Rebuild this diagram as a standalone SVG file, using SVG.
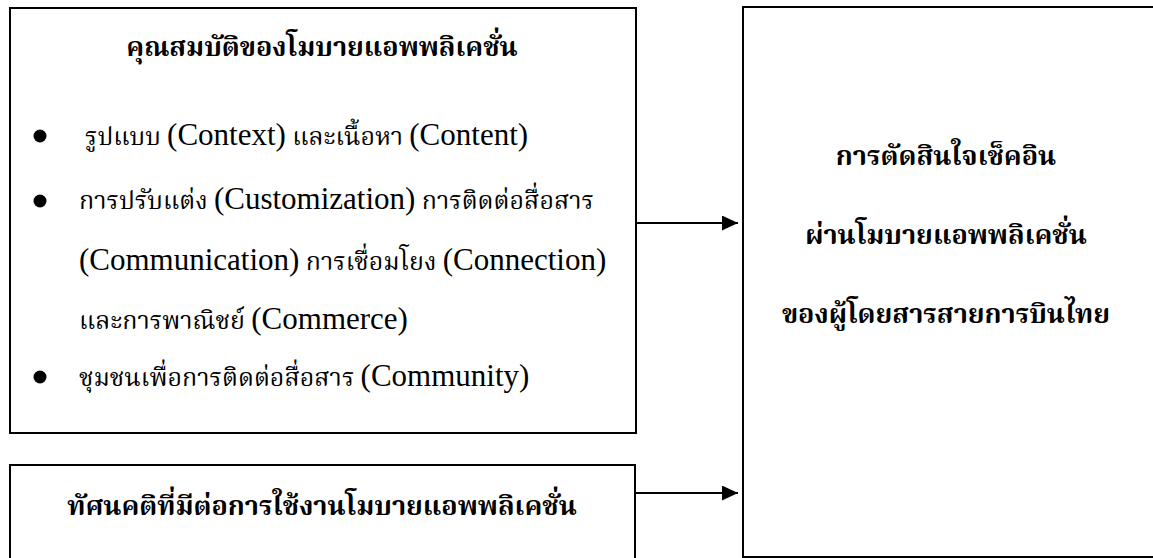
<svg xmlns="http://www.w3.org/2000/svg" width="1153" height="558" viewBox="0 0 1153 558">
<defs>
<style>
.box{fill:#fff;stroke:#000;stroke-width:2}
.t{font-family:"Liberation Serif","Norasi","Noto Serif Thai","Noto Sans Thai","Noto Sans",serif;fill:#000;font-size:25px}
.b{font-weight:bold;text-anchor:middle;font-size:27px}
.en{font-size:31px}
.edge{stroke:#000;stroke-width:2;fill:none}
</style>
<marker id="ah" markerWidth="16" markerHeight="15" refX="16" refY="7.5" orient="auto" markerUnits="userSpaceOnUse">
<path d="M0,0 L16,7.5 L0,15 Z" fill="#000"/>
</marker>
</defs>
<rect width="1153" height="558" fill="#fff"/>
<g id="node-features">
<rect class="box" x="10" y="8" width="626" height="425"/>
<text class="t b" x="322" y="56">คุณสมบัติของโมบายแอพพลิเคชั่น</text>
<circle cx="40" cy="136" r="6.5"/>
<text class="t" x="85" y="145">รูปแบบ <tspan class="en">(Context)</tspan> และเนื้อหา <tspan class="en">(Content)</tspan></text>
<circle cx="40" cy="201" r="6.5"/>
<text class="t" x="79" y="209">การปรับแต่ง <tspan class="en">(Customization)</tspan> การติดต่อสื่อสาร</text>
<text class="t" x="79" y="270"><tspan class="en">(Communication)</tspan> การเชื่อมโยง <tspan class="en">(Connection)</tspan></text>
<text class="t" x="79" y="329">และการพาณิชย์ <tspan class="en">(Commerce)</tspan></text>
<circle cx="40" cy="377" r="6.5"/>
<text class="t" x="79" y="386">ชุมชนเพื่อการติดต่อสื่อสาร <tspan class="en">(Community)</tspan></text>
</g>
<g id="node-attitude">
<rect class="box" x="10" y="465" width="625" height="100"/>
<text class="t b" x="322" y="515">ทัศนคติที่มีต่อการใช้งานโมบายแอพพลิเคชั่น</text>
</g>
<g id="node-decision">
<rect class="box" x="743" y="7" width="420" height="550"/>
<text class="t b" x="946" y="165">การตัดสินใจเช็คอิน</text>
<text class="t b" x="946" y="244">ผ่านโมบายแอพพลิเคชั่น</text>
<text class="t b" x="946" y="323">ของผู้โดยสารสายการบินไทย</text>
</g>
<g id="connectors">
<line class="edge" x1="636" y1="223" x2="738" y2="223" marker-end="url(#ah)"/>
<line class="edge" x1="635" y1="493" x2="738" y2="493" marker-end="url(#ah)"/>
</g>
</svg>
